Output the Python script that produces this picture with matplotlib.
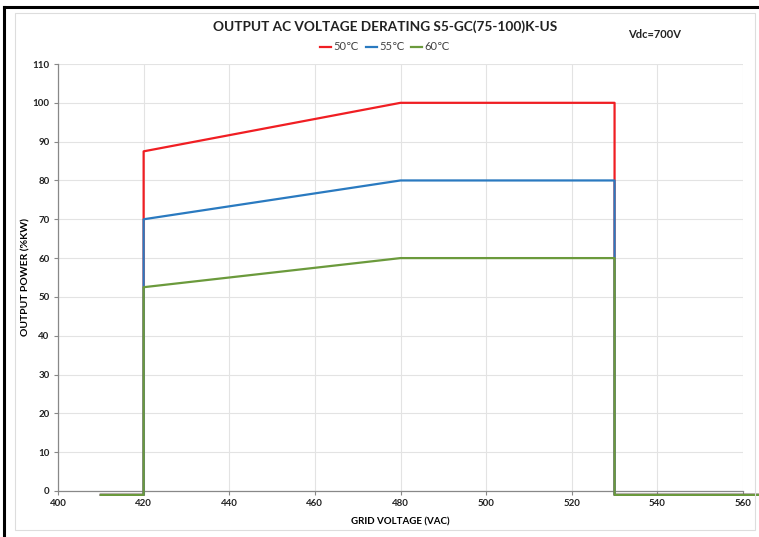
import matplotlib

matplotlib.use("Agg")
import matplotlib.pyplot as plt
from matplotlib.lines import Line2D
from matplotlib.patches import Rectangle

# Derating curves: grid voltage (VAC) vs output power (%kW)
grid_voltage = [410, 420, 420, 480, 530, 530, 566]
power_50c = [-1, -1, 87.5, 100, 100, -1, -1]
power_55c = [-1, -1, 70, 80, 80, -1, -1]
power_60c = [-1, -1, 52.5, 60, 60, -1, -1]

series_labels = ["50\u2103", "55\u2103", "60\u2103"]
series_colors = ["#f01e23", "#2a7ac0", "#6b9a3c"]

x_ticks = list(range(400, 561, 20))
y_ticks = list(range(0, 111, 10))

W, H = 759, 537
plt.rcParams["font.family"] = ["Lato", "DejaVu Sans"]

fig = plt.figure(figsize=(W / 100, H / 100), dpi=100)
fig.patch.set_facecolor("white")

# outer black frame (left + top) and light inner frame
fig.add_artist(Line2D([4 / W, 4 / W], [0, 1 - 7 / H], color="black", lw=2.2))
fig.add_artist(Line2D([4 / W, 1], [1 - 7 / H, 1 - 7 / H], color="black", lw=2.2))
fig.add_artist(Rectangle((15 / W, 1 - 530 / H), 740 / W, 517 / H,
                         transform=fig.transFigure, fill=False,
                         edgecolor="#dddddd", lw=0.8))

ax = fig.add_axes([58 / W, 1 - 491 / H, 685 / W, 427 / H])
for y, c, lab in zip([power_50c, power_55c, power_60c], series_colors, series_labels):
    ax.plot(grid_voltage, y, color=c, lw=1.6, label=lab, clip_on=False, zorder=3)

ax.set_xlim(400, 560)
ax.set_ylim(0, 110)
ax.set_xticks(x_ticks)
ax.set_yticks(y_ticks)
ax.grid(True, color="#e3e3e3", lw=0.8)
ax.set_axisbelow(True)
for s in ["top", "right"]:
    ax.spines[s].set_visible(False)
for s in ["left", "bottom"]:
    ax.spines[s].set_color("#888888")
    ax.spines[s].set_linewidth(0.9)
ax.tick_params(axis="both", length=3, width=0.8, color="#888888",
               labelsize=7, pad=3)
for lbl in ax.get_xticklabels() + ax.get_yticklabels():
    lbl.set_fontweight("bold")
    lbl.set_color("#222222")

ax.set_xlabel("GRID VOLTAGE (VAC)", fontsize=7, fontweight="bold")
ax.set_ylabel("OUTPUT POWER (%KW)", fontsize=7.5, fontweight="bold")
ax.xaxis.set_label_coords(400 / 685 - 58 / 685, -26 / 427)
ax.yaxis.set_label_coords(-28 / 685, 0.5)

fig.text(385 / W, 1 - 27 / H, "OUTPUT AC VOLTAGE DERATING S5-GC(75-100)K-US",
         ha="center", va="center", fontsize=9.8, fontweight="bold", color="#222222")
fig.text(655 / W, 1 - 35 / H, "Vdc=700V", ha="center", va="center",
         fontsize=8, fontweight="bold", color="#222222")

leg = fig.legend(loc="center", bbox_to_anchor=(385 / W, 1 - 47 / H), ncol=3,
                 frameon=False, fontsize=8, handlelength=1.0, handletextpad=0.2,
                 columnspacing=0.6, borderpad=0)
for t in leg.get_texts():
    t.set_color("#444444")

fig.savefig("out.png", dpi=100, facecolor="white")
